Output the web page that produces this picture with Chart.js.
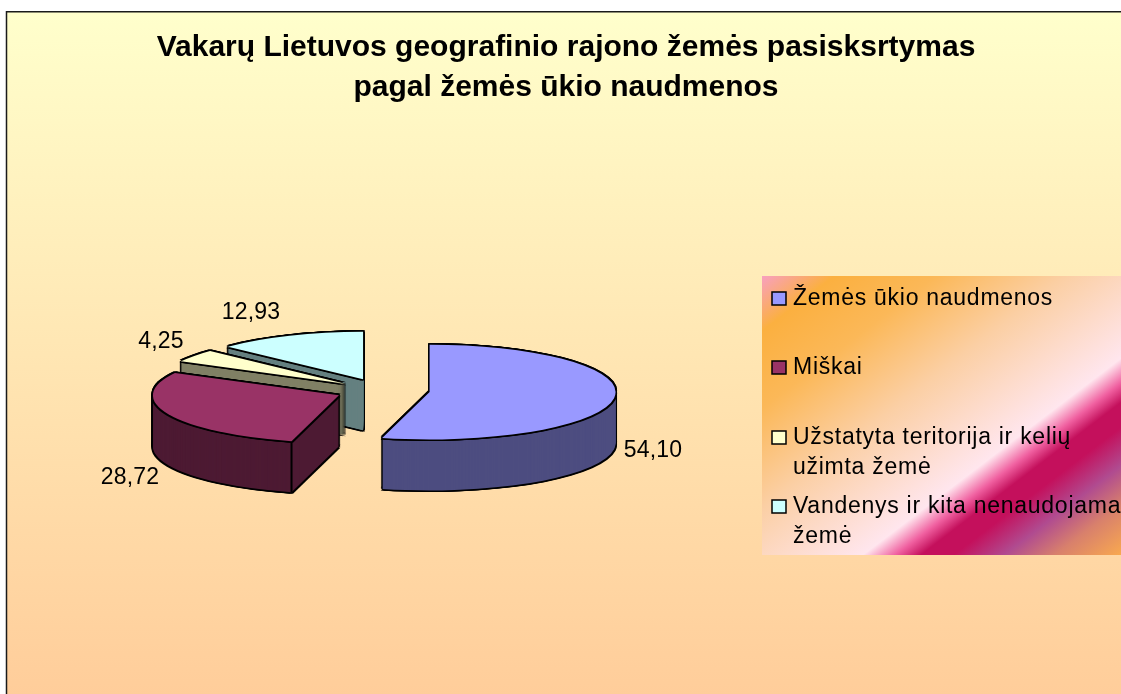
<!DOCTYPE html>
<html><head><meta charset="utf-8">
<style>html,body{margin:0;padding:0;background:#fff}canvas{display:block}#w{width:1121px;height:694px;position:relative}</style>
<script src="https://cdn.jsdelivr.net/npm/chart.js@4"></script></head>
<body><div id="w"><canvas id="c" width="1121" height="694"></canvas></div>
<script>
const titleLines = ['Vakarų Lietuvos geografinio rajono žemės pasisksrtymas', 'pagal žemės ūkio naudmenos'];
const categories = ['Žemės ūkio naudmenos', 'Miškai', 'Užstatyta teritorija ir kelių užimta žemė', 'Vandenys ir kita nenaudojama žemė'];
const legendLines = [['Žemės ūkio naudmenos'], ['Miškai'], ['Užstatyta teritorija ir kelių', 'užimta žemė'], ['Vandenys ir kita nenaudojama', 'žemė']];
const values = [54.10, 28.72, 4.25, 12.93];
const topColors = ['#9999FF', '#993366', '#FFFFCC', '#CCFFFF'];
const wallColors = ['#4D4D80', '#4D1A33', '#808066', '#668080'];

const FONT = '"Liberation Sans", Arial, sans-serif';
const PIE = {cx: 382, cy: 390.5, radius: 186, squash: 0.255, depth: 51, line: 1.5};
const explode = [48, 47, 45.5, 48];
const wallStep = [1, 1, 0.25, 0.25];
const labelPos = [[653, 451], [130, 478], [161, 342], [251, 313]];
const legendBox = {x: 762, y: 276, w: 359, h: 279};
const legendRows = [{sw: 292, base: [305]}, {sw: 361, base: [374]}, {sw: 431, base: [444, 474]}, {sw: 500, base: [513, 543]}];
const dirs = [[-1,-1],[0,-1],[1,-1],[-1,0],[1,0],[-1,1],[0,1],[1,1]];

function drawFlat(ctx, arc, i, color, sx, sy) {
  const saved = arc.options;
  arc.options = Object.assign(Object.create(saved), {backgroundColor: color, borderWidth: 0, offset: 0, spacing: 0});
  const mid = (arc.startAngle + arc.endAngle) / 2;
  ctx.save();
  ctx.translate(PIE.cx + sx + Math.cos(mid) * explode[i], PIE.cy + sy + Math.sin(mid) * explode[i] * PIE.squash);
  ctx.scale(1, PIE.squash);
  ctx.translate(-arc.x, -arc.y);
  arc.draw(ctx);
  ctx.restore();
  arc.options = saved;
}

const pie3d = {
  id: 'pie3d',
  beforeDraw(chart) {
    const ctx = chart.ctx;
    ctx.save();
    ctx.fillStyle = '#fff';
    ctx.fillRect(0, 0, chart.width, chart.height);
    const g = ctx.createLinearGradient(0, 12, 0, 710);
    g.addColorStop(0, '#FFFFCC');
    g.addColorStop(1, '#FFCC99');
    ctx.fillStyle = g;
    ctx.fillRect(6, 12, chart.width, chart.height);
    ctx.strokeStyle = '#1a1a1a';
    ctx.lineWidth = 1.5;
    ctx.strokeRect(6.5, 11.75, chart.width + 10, chart.height + 10);
    ctx.restore();
  },
  beforeDatasetsDraw(chart) {
    const ctx = chart.ctx;
    const arcs = chart.getDatasetMeta(0).data;
    [3, 2, 1, 0].forEach(i => {
      const arc = arcs[i];
      const step = wallStep[i];
      for (let d = PIE.depth; d >= 0; d -= step) {
        dirs.forEach(v => { if (d === PIE.depth || d === 0 || v[1] === 0) drawFlat(ctx, arc, i, '#000', v[0] * PIE.line, d + v[1] * PIE.line); });
      }
      for (let d = PIE.depth; d >= 0; d -= step) drawFlat(ctx, arc, i, wallColors[i], 0, d);
      const startFromTop = arc.startAngle + Math.PI / 2;
      if (startFromTop > Math.PI / 2 && startFromTop < Math.PI * 1.5) {
        const mid = (arc.startAngle + arc.endAngle) / 2;
        const x = PIE.cx + Math.cos(mid) * explode[i] + Math.cos(arc.startAngle) * PIE.radius;
        const y = PIE.cy + (Math.sin(mid) * explode[i] + Math.sin(arc.startAngle) * PIE.radius) * PIE.squash;
        ctx.save();
        ctx.strokeStyle = '#000';
        ctx.lineWidth = 2;
        ctx.beginPath();
        ctx.moveTo(x, y);
        ctx.lineTo(x, y + PIE.depth);
        ctx.stroke();
        ctx.restore();
      }
      dirs.forEach(v => drawFlat(ctx, arc, i, '#000', v[0] * PIE.line, v[1] * PIE.line));
      drawFlat(ctx, arc, i, topColors[i], 0, 0);
    });
    return false;
  },
  afterDraw(chart) {
    const ctx = chart.ctx;
    ctx.save();
    ctx.fillStyle = '#000';
    ctx.font = '23px ' + FONT;
    ctx.letterSpacing = '0.2px';
    ctx.textAlign = 'center';
    ctx.textBaseline = 'middle';
    values.forEach((v, i) => ctx.fillText(v.toFixed(2).replace('.', ','), labelPos[i][0], labelPos[i][1]));

    const b = legendBox;
    const g = ctx.createLinearGradient(b.x, b.y, b.x + 266, b.y + 349);
    [[0, '#F8A0C0'], [0.1, '#FBB040'], [0.24, '#FBB858'], [0.42, '#FBCFA4'], [0.645, '#FFE6EE'], [0.69, '#F060A0'], [0.725, '#C4105C'], [0.77, '#C4105C'], [0.84, '#B04B90'], [0.91, '#D8806C'], [1, '#F8A850']]
      .forEach(s => g.addColorStop(s[0], s[1]));
    ctx.fillStyle = g;
    ctx.fillRect(b.x, b.y, b.w, b.h);
    ctx.textAlign = 'left';
    ctx.textBaseline = 'alphabetic';
    ctx.letterSpacing = '0.73px';
    legendLines.forEach((lines, i) => {
      const r = legendRows[i];
      ctx.fillStyle = topColors[i];
      ctx.strokeStyle = '#000';
      ctx.lineWidth = 1.5;
      ctx.fillRect(772, r.sw, 14, 13);
      ctx.strokeRect(772, r.sw, 14, 13);
      ctx.fillStyle = '#000';
      lines.forEach((t, k) => ctx.fillText(t, 793, r.base[k]));
    });
    ctx.restore();
  }
};

new Chart(document.getElementById('c'), {
  type: 'pie',
  data: {labels: categories, datasets: [{data: values, backgroundColor: topColors, borderWidth: 0}]},
  options: {
    responsive: false,
    animation: false,
    radius: PIE.radius,
    rotation: 0,
    layout: {padding: {left: 11, right: 0, top: 0, bottom: 0}},
    plugins: {
      legend: {display: false},
      tooltip: {enabled: false},
      title: {display: true, text: titleLines, color: '#000', padding: {top: 28, bottom: 10},
        font: {family: FONT, size: 30, weight: 'bold', lineHeight: 1.333}}
    }
  },
  plugins: [pie3d]
});
</script></body></html>
